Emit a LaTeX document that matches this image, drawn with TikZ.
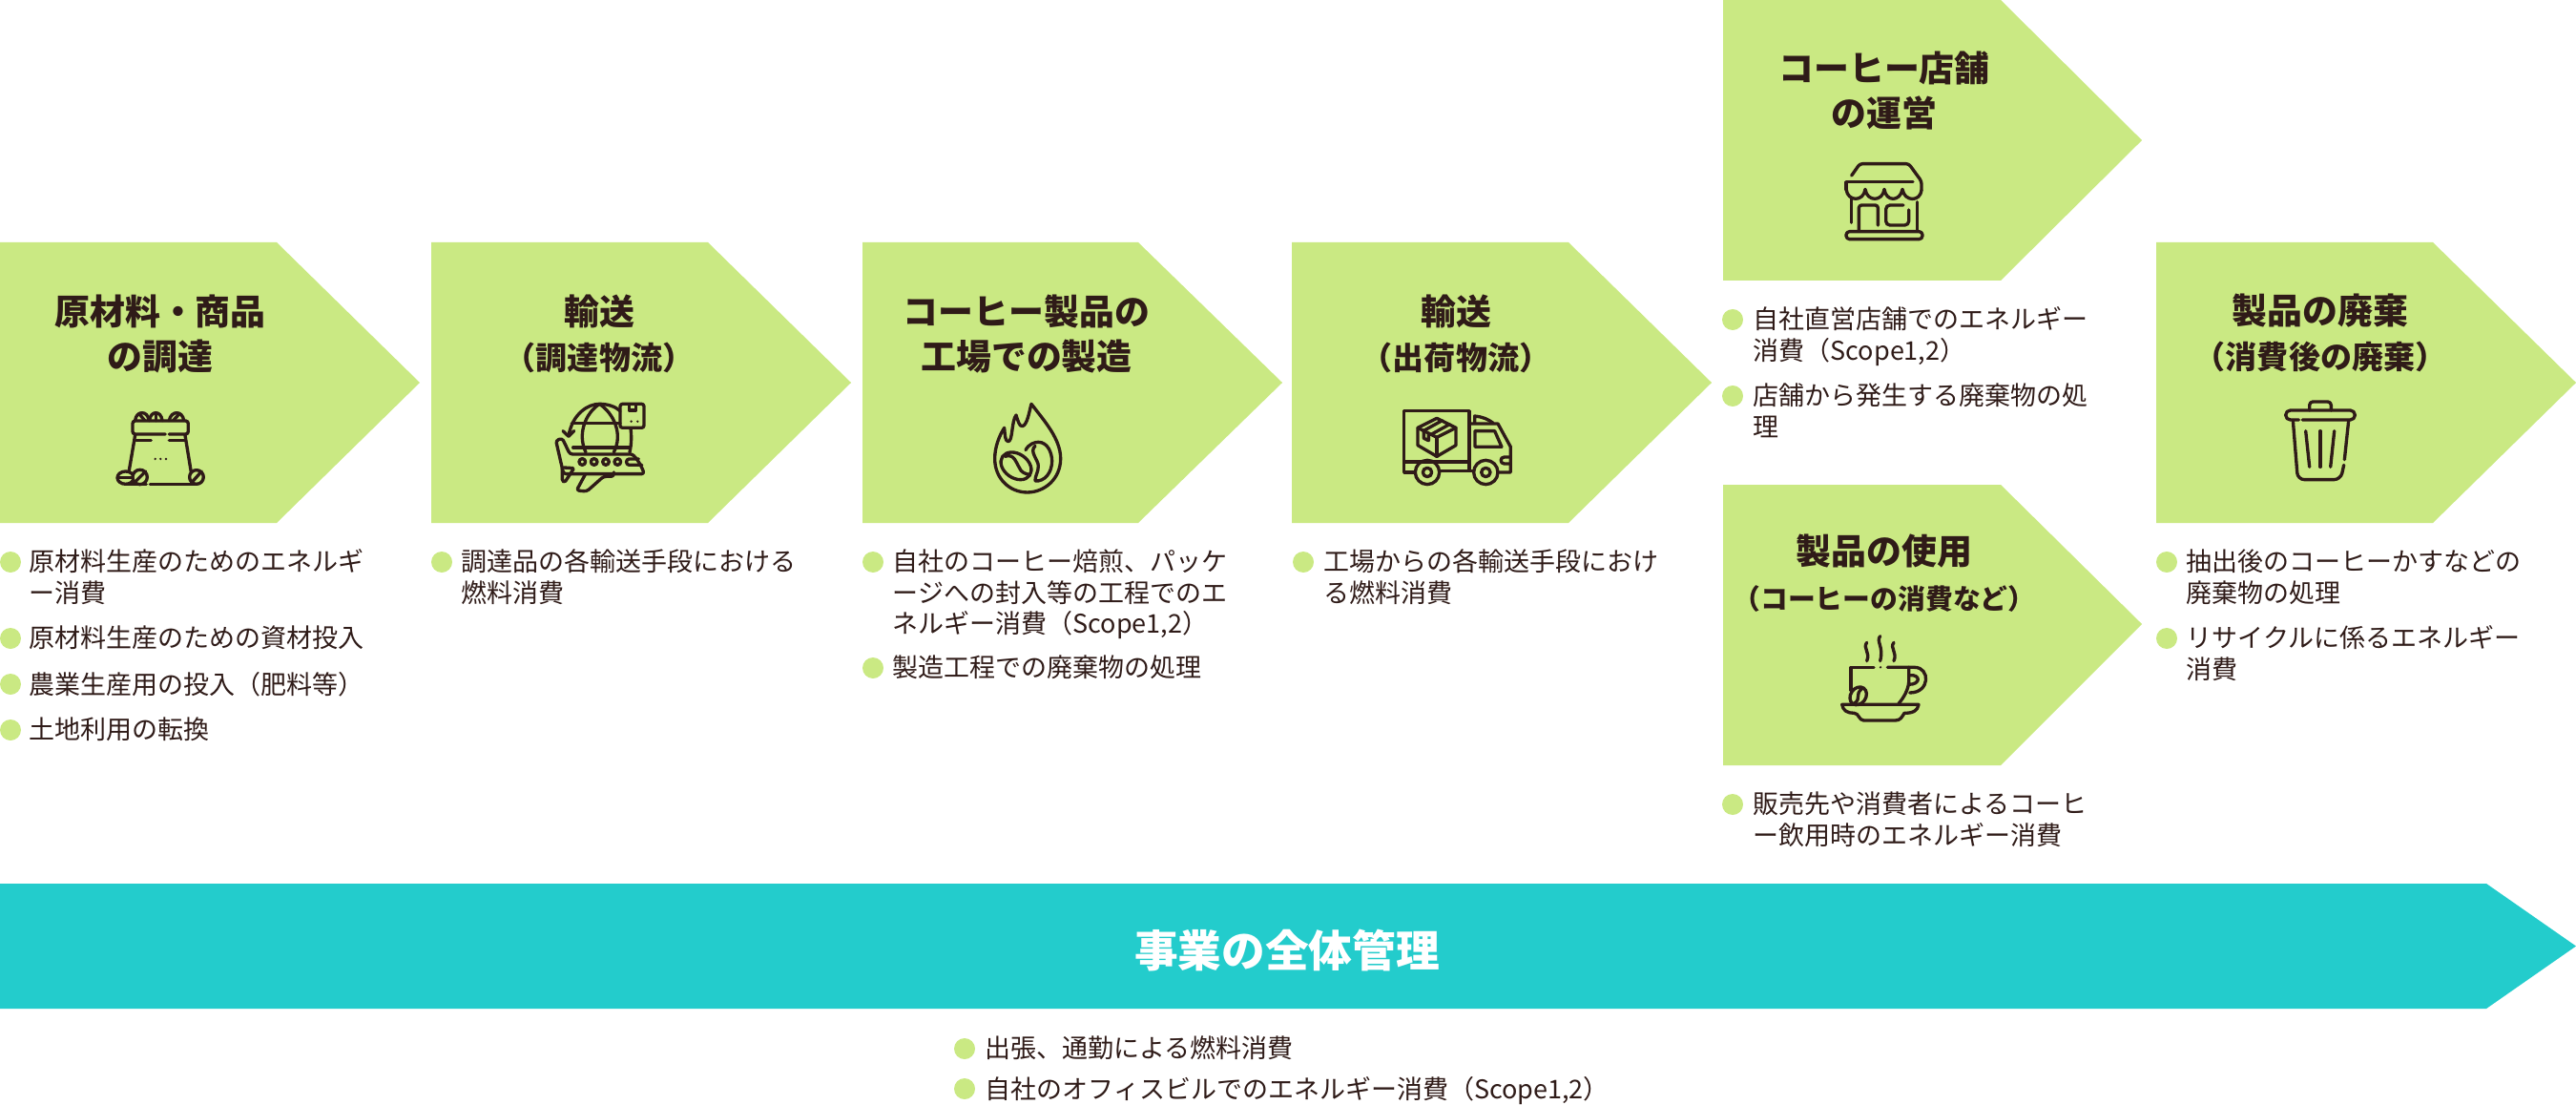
\documentclass[tikz,border=0pt]{standalone}
\usepackage{fontspec}
\setmainfont{Noto Sans CJK JP}
\usepackage{xcolor}
\definecolor{flowGreen}{RGB}{202, 233, 131}
\definecolor{flowTeal}{RGB}{35, 204, 204}
\definecolor{flowInk}{RGB}{47, 27, 24}
\usepackage{tikz}

\begin{document}
\begin{tikzpicture}[
    stepShape/.style={fill=flowGreen},
    bandShape/.style={fill=flowTeal},
    stepTitle/.style={
        text=flowInk, align=center, inner sep=0pt,
        font=\fontsize{10.5}{13.4}\selectfont\bfseries
    },
    bandTitle/.style={
        text=white, inner sep=0pt,
        font=\fontsize{13}{15}\selectfont\bfseries
    },
    itemDot/.style={
        circle, fill=flowGreen, inner sep=0pt, minimum size=0.22cm
    },
    itemText/.style={
        text=flowInk, align=left, inner sep=0pt, anchor=north west, yshift=3.9pt,
        font=\fontsize{7.68}{9.2}\selectfont, execute at begin node=\strut
    },
    iconGrid/.style={x=0.03333mm, y=-0.03333mm},
    iconLine/.style={
        draw=flowInk, line width=0.95pt, line cap=round, line join=round
    }
]
    \useasboundingbox (0,-11.58) rectangle (27,0);

    % Step shapes
    \fill[stepShape] (0,-2.54) -- (2.90,-2.54) -- (4.40,-4.01) -- (2.90,-5.48) -- (0,-5.48) -- cycle;
    \fill[stepShape] (4.52,-2.54) -- (7.42,-2.54) -- (8.92,-4.01) -- (7.42,-5.48) -- (4.52,-5.48) -- cycle;
    \fill[stepShape] (9.04,-2.54) -- (11.93,-2.54) -- (13.44,-4.01) -- (11.93,-5.48) -- (9.04,-5.48) -- cycle;
    \fill[stepShape] (13.54,-2.54) -- (16.44,-2.54) -- (17.94,-4.01) -- (16.44,-5.48) -- (13.54,-5.48) -- cycle;
    \fill[stepShape] (18.06,0) -- (20.97,0) -- (22.45,-1.47) -- (20.97,-2.94) -- (18.06,-2.94) -- cycle;
    \fill[stepShape] (18.06,-5.08) -- (20.97,-5.08) -- (22.45,-6.54) -- (20.97,-8.02) -- (18.06,-8.02) -- cycle;
    \fill[stepShape] (22.60,-2.54) -- (25.50,-2.54) -- (27,-4.01) -- (25.50,-5.48) -- (22.60,-5.48) -- cycle;
    \fill[bandShape] (0,-9.26) -- (26.06,-9.26) -- (27,-9.915) -- (26.06,-10.57) -- (0,-10.57) -- cycle;

    % Step titles
    \node[stepTitle] (t1) at (1.68,-3.50) {原材料・商品\\の調達};
    \node[stepTitle] (t2) at (6.28,-3.50) {輸送\\\fontsize{9.4}{13.4}\selectfont（調達物流）};
    \node[stepTitle] (t3) at (10.76,-3.50) {コーヒー製品の\\工場での製造};
    \node[stepTitle] (t4) at (15.26,-3.50) {輸送\\\fontsize{9.4}{13.4}\selectfont（出荷物流）};
    \node[stepTitle] (t5) at (19.75,-0.95) {コーヒー店舗\\の運営};
    \node[stepTitle] (t6) at (19.75,-6.01) {製品の使用\\\fontsize{8.2}{12}\selectfont（コーヒーの消費など）};
    \node[stepTitle] (t7) at (24.32,-3.49) {製品の廃棄\\\fontsize{9.4}{12.5}\selectfont（消費後の廃棄）};
    \node[bandTitle] (t8) at (13.49,-9.96) {事業の全体管理};

    % Items under the steps
    \node[itemDot] (d1a) at (0.11,-5.89) {};
    \node[itemText] (i1a) at (0.30,-5.89) {原材料生産のためのエネルギ\\ー消費};
    \node[itemDot] (d1b) at (0.11,-6.69) {};
    \node[itemText] (i1b) at (0.30,-6.69) {原材料生産のための資材投入};
    \node[itemDot] (d1c) at (0.11,-7.17) {};
    \node[itemText] (i1c) at (0.30,-7.17) {農業生産用の投入（肥料等）};
    \node[itemDot] (d1d) at (0.11,-7.65) {};
    \node[itemText] (i1d) at (0.30,-7.65) {土地利用の転換};

    \node[itemDot] (d2a) at (4.63,-5.89) {};
    \node[itemText] (i2a) at (4.83,-5.89) {調達品の各輸送手段における\\燃料消費};

    \node[itemDot] (d3a) at (9.15,-5.89) {};
    \node[itemText] (i3a) at (9.35,-5.89) {自社のコーヒー焙煎、パッケ\\ージへの封入等の工程でのエ\\ネルギー消費（Scope1,2）};
    \node[itemDot] (d3b) at (9.15,-7.00) {};
    \node[itemText] (i3b) at (9.35,-7.00) {製造工程での廃棄物の処理};

    \node[itemDot] (d4a) at (13.66,-5.89) {};
    \node[itemText] (i4a) at (13.87,-5.89) {工場からの各輸送手段におけ\\る燃料消費};

    \node[itemDot] (d5a) at (18.16,-3.35) {};
    \node[itemText] (i5a) at (18.37,-3.35) {自社直営店舗でのエネルギー\\消費（Scope1,2）};
    \node[itemDot] (d5b) at (18.16,-4.15) {};
    \node[itemText] (i5b) at (18.37,-4.15) {店舗から発生する廃棄物の処\\理};

    \node[itemDot] (d6a) at (18.16,-8.43) {};
    \node[itemText] (i6a) at (18.37,-8.43) {販売先や消費者によるコーヒ\\ー飲用時のエネルギー消費};

    \node[itemDot] (d7a) at (22.71,-5.89) {};
    \node[itemText] (i7a) at (22.91,-5.89) {抽出後のコーヒーかすなどの\\廃棄物の処理};
    \node[itemDot] (d7b) at (22.71,-6.69) {};
    \node[itemText] (i7b) at (22.91,-6.69) {リサイクルに係るエネルギー\\消費};

    \node[itemDot] (d8a) at (10.11,-10.99) {};
    \node[itemText] (i8a) at (10.32,-10.99) {出張、通勤による燃料消費};
    \node[itemDot] (d8b) at (10.11,-11.41) {};
    \node[itemText] (i8b) at (10.32,-11.41) {自社のオフィスビルでのエネルギー消費（Scope1,2）};

    % Bag icon
    \begin{scope}[shift={(0.90,-4.00)}, iconGrid]
        \draw[iconLine, rounded corners=0.8pt] (250,165) -- (147,165) -- (147,123) -- (322,123) -- (322,165) -- (262,165);
        \draw[iconLine] (155,168) -- (135,285);
        \draw[iconLine] (312,168) -- (332,290);
        \draw[iconLine] (158,184) -- (205,184);
        \draw[iconLine] (262,184) -- (312,184);
        \draw[iconLine] (202,322) -- (345,322);
        \draw[iconLine] (125,322) -- (190,322);
        \draw[iconLine, fill=flowGreen] (125,302) ellipse [x radius=26, y radius=20];
        \draw[iconLine] (103,302) -- (147,302);
        \draw[iconLine, fill=flowGreen] (170,300) circle [radius=23];
        \draw[iconLine] (152,318) -- (188,282);
        \draw[iconLine, fill=flowGreen] (348,300) circle [radius=22];
        \draw[iconLine] (332,318) -- (364,282);
        \draw[iconLine] (155,122) .. controls (158,90) and (196,90) .. (198,122);
        \draw[iconLine] (200,122) .. controls (203,90) and (237,90) .. (240,122);
        \draw[iconLine] (262,122) .. controls (268,90) and (304,90) .. (308,122);
        \draw[iconLine] (167,100) -- (185,122);
        \draw[iconLine] (220,98) -- (220,122);
        \draw[iconLine] (295,100) -- (275,122);
        \fill[flowInk] (218,243) circle [radius=4] (235,243) circle [radius=4] (252,243) circle [radius=4];
    \end{scope}

    % Globe and plane icon
    \begin{scope}[shift={(5.60,-4.00)}, iconGrid]
        \draw[iconLine] (108,170) .. controls (120,100) and (170,70) .. (205,70) .. controls (230,70) and (255,78) .. (270,92);
        \draw[iconLine] (303,147) .. controls (306,170) and (306,195) .. (300,222);
        \draw[iconLine] (90,155) -- (108,172) -- (125,155);
        \draw[iconLine] (205,70) .. controls (160,100) and (135,165) .. (162,222);
        \draw[iconLine] (205,70) .. controls (250,100) and (280,165) .. (250,222);
        \draw[iconLine] (118,130) -- (270,130);
        \draw[iconLine] (122,207) -- (300,207);
        \draw[iconLine, rounded corners=0.7pt] (270,70) rectangle (345,145);
        \draw[iconLine] (298,72) -- (298,90) -- (320,90) -- (320,72);
        \fill[flowInk] (305,125) circle [radius=4] (325,125) circle [radius=4];
        \draw[iconLine, rounded corners=0.8pt] (112,228) -- (295,228) .. controls (315,228) and (335,260) .. (346,290) -- (92,290) -- (68,185) -- (88,178) -- cycle;
        \foreach \wx in {151,188,225,262}
            \draw[iconLine] (\wx,252) circle [radius=10];
        \draw[iconLine, rounded corners=0.8pt] (328,243) -- (290,243) -- (290,262) -- (338,262);
        \draw[iconLine, rounded corners=0.8pt] (160,292) -- (133,342) -- (165,345) -- (218,298) -- (250,298) -- (250,285);
        \draw[iconLine, rounded corners=0.4pt] (92,270) -- (125,272) -- (96,316) -- (88,312) -- (88,272);
    \end{scope}

    % Flame icon
    \begin{scope}[shift={(10.20,-4.10)}, iconGrid]
        \draw[iconLine] (183,40) .. controls (225,95) and (275,150) .. (275,212) .. controls (275,275) and (225,318) .. (170,318) .. controls (115,318) and (68,275) .. (68,212) .. controls (68,175) and (82,140) .. (98,115) .. controls (100,135) and (100,158) .. (110,158) .. controls (125,158) and (120,95) .. (135,75) .. controls (140,90) and (145,112) .. (155,110) .. controls (170,105) and (175,70) .. (183,40) -- cycle;
        \draw[iconLine, rotate around={-35:(135,235)}] (135,235) ellipse [x radius=52, y radius=38];
        \draw[iconLine] (100,205) .. controls (130,195) and (135,225) .. (145,240) .. controls (150,255) and (165,260) .. (175,262);
        \draw[iconLine] (165,185) .. controls (175,165) and (195,160) .. (205,160) .. controls (235,160) and (248,195) .. (248,220) .. controls (248,255) and (225,285) .. (195,282);
        \draw[iconLine] (195,172) .. controls (175,190) and (205,215) .. (205,235) .. controls (205,255) and (195,265) .. (195,280);
    \end{scope}

    % Truck icon
    \begin{scope}[shift={(14.50,-4.10)}, iconGrid]
        \draw[iconLine] (100,255) -- (65,255) -- (65,62) -- (270,62) -- (270,250);
        \draw[iconLine] (65,222) -- (265,222);
        \draw[iconLine] (178,250) -- (283,250);
        \draw[iconLine] (270,102) -- (360,102) -- (400,175) -- (400,255) -- (360,255);
        \draw[iconLine] (287,100) -- (287,78) .. controls (310,80) and (330,88) .. (345,100);
        \draw[iconLine] (288,125) -- (350,125) -- (372,175) -- (288,175) -- cycle;
        \draw[iconLine] (138,255) circle [radius=38];
        \draw[iconLine] (138,255) circle [radius=14];
        \draw[iconLine] (322,255) circle [radius=38];
        \draw[iconLine] (322,255) circle [radius=14];
        \draw[iconLine] (398,207) -- (380,207) .. controls (366,207) and (366,228) .. (380,228) -- (398,228);
        \draw[iconLine] (168,85) -- (228,115) -- (228,170) -- (168,205) -- (108,170) -- (108,115) -- cycle;
        \draw[iconLine] (108,115) -- (168,145) -- (228,115);
        \draw[iconLine] (168,145) -- (168,205);
        \draw[iconLine] (125,125) -- (185,92);
        \draw[iconLine] (150,136) -- (208,104);
        \draw[iconLine] (127,128) -- (127,148) -- (142,155) -- (142,136);
    \end{scope}

    % Store icon
    \begin{scope}[shift={(19.10,-1.60)}, iconGrid]
        \draw[iconLine, rounded corners=0.8pt] (92,72) -- (118,35) -- (272,35) -- (312,90) -- (312,118);
        \draw[iconLine] (285,92) -- (75,92) -- (75,115);
        \draw[iconLine] (75,115) .. controls (80,155) and (130,155) .. (135,115) .. controls (140,155) and (190,155) .. (195,115) .. controls (200,155) and (245,155) .. (252,115) .. controls (258,155) and (308,155) .. (312,118);
        \draw[iconLine] (92,145) -- (92,220);
        \draw[iconLine] (298,155) -- (298,245);
        \draw[iconLine, rounded corners=0.8pt] (115,245) -- (115,165) -- (175,165) -- (175,228);
        \draw[iconLine, rounded corners=1.2pt] (255,165) -- (200,165) -- (200,228) -- (272,228) -- (272,180);
        \draw[iconLine, rounded corners=1pt] (75,248) rectangle (315,272);
    \end{scope}

    % Cup icon
    \begin{scope}[shift={(19.10,-6.60)}, iconGrid]
        \foreach \sx/\sy in {140/40,182/20,225/40}
            \draw[iconLine] (\sx,\sy) .. controls ({\sx-14},{\sy+18}) and ({\sx+12},{\sy+30}) .. (\sx,98);
        \draw[iconLine] (162,118) -- (90,118) -- (90,190);
        \fill[flowInk] (183,118) circle [radius=4];
        \draw[iconLine] (205,118) -- (290,118) .. controls (340,118) and (340,198) .. (275,198);
        \draw[iconLine] (275,143) .. controls (310,140) and (310,172) .. (272,172);
        \draw[iconLine] (272,118) -- (272,165) .. controls (270,190) and (255,215) .. (240,232);
        \draw[iconLine, rotate around={-35:(113,208)}] (113,208) ellipse [x radius=24, y radius=30];
        \draw[iconLine] (125,185) .. controls (100,205) and (125,215) .. (100,232);
        \draw[iconLine] (62,235) -- (303,235) .. controls (300,255) and (285,262) .. (258,262) .. controls (250,275) and (245,285) .. (230,285) -- (130,285) .. controls (115,285) and (115,262) .. (100,262) .. controls (80,262) and (65,255) .. (62,235) -- cycle;
    \end{scope}

    % Bin icon
    \begin{scope}[shift={(23.80,-4.10)}, iconGrid]
        \draw[iconLine, rounded corners=1.4pt] (88,90) -- (47,90) -- (47,60) -- (265,60) -- (265,90) -- (100,90);
        \draw[iconLine, rounded corners=1pt] (122,60) -- (122,33) -- (190,33) -- (190,60);
        \draw[iconLine, rounded corners=2pt] (70,92) -- (85,278) -- (220,278) -- (230,232);
        \draw[iconLine] (245,92) -- (232,215);
        \draw[iconLine] (110,125) -- (122,238);
        \draw[iconLine] (156,125) -- (156,238);
        \draw[iconLine] (200,125) -- (188,238);
    \end{scope}
\end{tikzpicture}
\end{document}
